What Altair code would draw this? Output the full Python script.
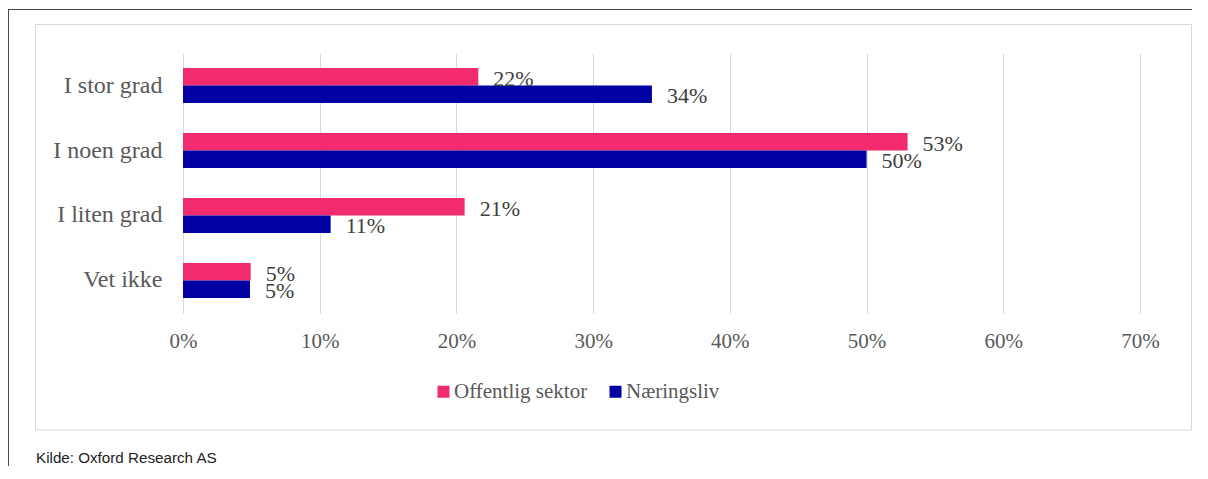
import altair as alt
import pandas as pd

categories = ["I stor grad", "I noen grad", "I liten grad", "Vet ikke"]
series = ["Offentlig sektor", "Næringsliv"]
offentlig = [0.216, 0.530, 0.206, 0.0495]
naeringsliv = [0.343, 0.500, 0.108, 0.049]
colors = ["#F22A6E", "#0000A3"]
x_ticks = [0, 0.1, 0.2, 0.3, 0.4, 0.5, 0.6, 0.7]
source_text = "Kilde: Oxford Research AS"

rows = []
for c, o, n in zip(categories, offentlig, naeringsliv):
    rows.append({"kategori": c, "serie": series[0], "verdi": o})
    rows.append({"kategori": c, "serie": series[1], "verdi": n})
df = pd.DataFrame(rows)

SERIF = "Liberation Serif"
SANS = "Liberation Sans"

y_enc = alt.Y(
    "kategori:N", sort=categories,
    scale=alt.Scale(paddingInner=0.4615, paddingOuter=0.2308),
    axis=alt.Axis(title=None, domain=False, ticks=False, labelFont=SERIF,
                  labelFontSize=24, labelColor="#595959", labelPadding=21),
)
yoff = alt.YOffset("serie:N", sort=series, scale=alt.Scale(domain=series, paddingInner=0, paddingOuter=0))
x_enc = alt.X(
    "verdi:Q",
    scale=alt.Scale(domain=[0, 0.7], nice=False),
    axis=alt.Axis(values=x_ticks, format=".0%", title=None, domain=False, ticks=False,
                  grid=True, gridColor="#D9D9D9", gridWidth=1, labelFont=SERIF,
                  labelFontSize=21, labelColor="#595959", labelPadding=17,
                  labelFlush=False),
)

bars = alt.Chart(df).mark_bar().encode(
    x=x_enc, y=y_enc, yOffset=yoff,
    color=alt.Color(
        "serie:N", sort=series,
        scale=alt.Scale(domain=series, range=colors),
        legend=alt.Legend(orient="none", legendX=250, legendY=328, direction="horizontal",
                          title=None, symbolType="square", symbolSize=144,
                          symbolStrokeWidth=0, labelFont=SERIF, labelFontSize=21,
                          labelColor="#595959", columnPadding=17, labelOffset=0, padding=0),
    ),
)

labels = alt.Chart(df).mark_text(
    align="left", baseline="middle", dx=15, dy=2, font=SERIF, fontSize=22, color="#404040"
).encode(
    x="verdi:Q", y=alt.Y("kategori:N", sort=categories), yOffset=alt.YOffset("serie:N", sort=series),
    text=alt.Text("verdi:Q", format=".0%"),
)

one = alt.Data(values=[{}])
frame_top = alt.Chart(one).mark_rule(color="#4A4A4A", strokeWidth=1).encode(
    x=alt.value(-175), x2=alt.value(1030), y=alt.value(-43.5))
frame_left = alt.Chart(one).mark_rule(color="#4A4A4A", strokeWidth=1).encode(
    x=alt.value(-174.5), y=alt.value(-44), y2=alt.value(430))
box = alt.Chart(one).mark_rect(fill="transparent", stroke="#D9D9D9", strokeWidth=1).encode(
    x=alt.value(-147.5), x2=alt.value(1008.5), y=alt.value(-28.5), y2=alt.value(377))
kilde = alt.Chart(one).mark_text(
    align="left", baseline="middle", font=SANS, fontSize=15.2, color="#222222"
).encode(x=alt.value(-147), y=alt.value(405), text=alt.value(source_text))

chart = alt.layer(frame_top, frame_left, box, bars, labels, kilde).properties(
    width=957, height=260,
    padding={"left": 175, "top": 45, "right": 52, "bottom": 153},
    autosize="none", background="white",
).configure_view(stroke=None)

chart.save("out.html", embed_options={"renderer": "svg", "actions": False})
